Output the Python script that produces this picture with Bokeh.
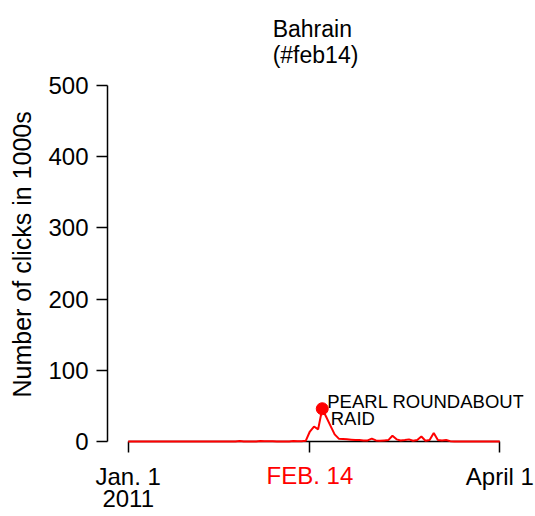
from bokeh.plotting import figure
from bokeh.models import FixedTicker, Label, LinearAxis, Title
from bokeh.embed import file_html
from bokeh.resources import INLINE

# ---- data (clicks in 1000s per day, day 0 = Jan 1 2011) ----
days = list(range(91))
clicks = [
    0, 0, 0, 0, 0, 0, 0, 0, 0, 0,          # 0-9
    0, 0, 0, 0, 0, 0, 0, 0, 0, 0,          # 10-19
    0, 0, 0, 0, 0, 0, 0, 0.8, 0, 0,        # 20-29
    0, 0, 0.7, 0.2, 0.2, 0.2, 0, 0, 0, 0,  # 30-39
    0.8, 0.3, 0.5, 1, 14, 21, 17, 46, 34, 22,  # 40-49
    10, 4, 3.5, 3, 2.5, 2, 2, 1.5, 1.5, 4,     # 50-59
    1.5, 1, 1.5, 2, 8, 3, 1.5, 2, 3, 1,        # 60-69
    2, 7, 1, 2, 12, 2, 1.5, 2, 0.5, 0,         # 70-79
    0, 0, 0, 0, 0, 0, 0, 0, 0, 0,              # 80-89
    0,                                          # 90
]
x_tick_days = [0, 44, 90]
x_tick_labels = ["Jan. 1", "FEB. 14", "April 1"]
x_tick_sublabels = ["2011", "", ""]
highlight_day = 44
y_ticks = [0, 100, 200, 300, 400, 500]
event_day = 47
event_text_1 = "PEARL ROUNDABOUT"
event_text_2 = "RAID"
title_text = "Bahrain\n(#feb14)"
y_title = "Number of clicks in 1000s"

FONT = "Liberation Sans"

p = figure(width=535, height=516, output_backend="svg", toolbar_location=None,
           x_range=(-5.013, 95.74), y_range=(0, 500),
           min_border_left=107, min_border_right=12,
           min_border_top=85, min_border_bottom=75)

p.outline_line_color = None
p.grid.visible = False
p.background_fill_color = "white"
p.border_fill_color = "white"

p.title.text = title_text
p.title.align = "center"
p.title.vertical_align = "top"
p.title.text_font = FONT
p.title.text_font_size = "23px"
p.title.text_font_style = "normal"
p.title.text_color = "black"
p.title.text_line_height = 1.0
p.title.standoff = 31


def style_axis(ax, color="black"):
    ax.axis_line_color = "black"
    ax.axis_line_width = 1.5
    ax.major_tick_line_color = "black"
    ax.major_tick_line_width = 1.5
    ax.major_tick_in = 0
    ax.major_tick_out = 11
    ax.minor_tick_line_color = None
    ax.major_label_text_font = FONT
    ax.major_label_text_font_size = "24px"
    ax.major_label_text_color = color


def label_only_axis(overrides, standoff):
    ax = LinearAxis()
    style_axis(ax)
    ax.axis_line_color = None
    ax.major_tick_line_color = None
    ax.major_tick_out = 0
    ax.ticker = FixedTicker(ticks=x_tick_days)
    ax.major_label_overrides = overrides
    ax.major_label_standoff = standoff
    return ax


hl = {d: (t if d == highlight_day else "") for d, t in zip(x_tick_days, x_tick_labels)}
plain = {d: ("" if d == highlight_day else t) for d, t in zip(x_tick_days, x_tick_labels)}
sub = {d: t for d, t in zip(x_tick_days, x_tick_sublabels)}

# axis next to the frame: line, ticks and the red FEB. 14 label
xa = p.xaxis[0]
style_axis(xa, color="red")
xa.ticker = FixedTicker(ticks=x_tick_days)
xa.major_label_overrides = hl
xa.bounds = (x_tick_days[0], x_tick_days[-1])
xa.major_label_standoff = 9

# black labels pulled up onto the same row, then the year line
p.add_layout(label_only_axis(plain, -29), "below")
p.add_layout(label_only_axis(sub, -3), "below")

ya = p.yaxis[0]
style_axis(ya)
ya.ticker = FixedTicker(ticks=y_ticks)
ya.bounds = (y_ticks[0], y_ticks[-1])
ya.major_label_standoff = 8
ya.major_label_orientation = "horizontal"

p.add_layout(Title(text=y_title, align="left", offset=44, standoff=15,
                   vertical_align="top",
                   text_font=FONT, text_font_size="25px",
                   text_font_style="normal", text_color="black"), "left")

line = p.line(days, clicks, line_color="red", line_width=2)
line.level = "overlay"

idx = days.index(event_day)
p.scatter([event_day], [clicks[idx]], size=12, color="red")

p.add_layout(Label(x=event_day, y=clicks[idx], text=event_text_1,
                   x_offset=5, y_offset=7,
                   text_font=FONT, text_font_size="18.5px",
                   text_baseline="alphabetic", text_color="black"))
p.add_layout(Label(x=event_day, y=clicks[idx], text=event_text_2,
                   x_offset=8.5, y_offset=7 - 16.7,
                   text_font=FONT, text_font_size="18.5px",
                   text_baseline="alphabetic", text_color="black"))

open("out.html", "w").write(file_html(p, INLINE))
